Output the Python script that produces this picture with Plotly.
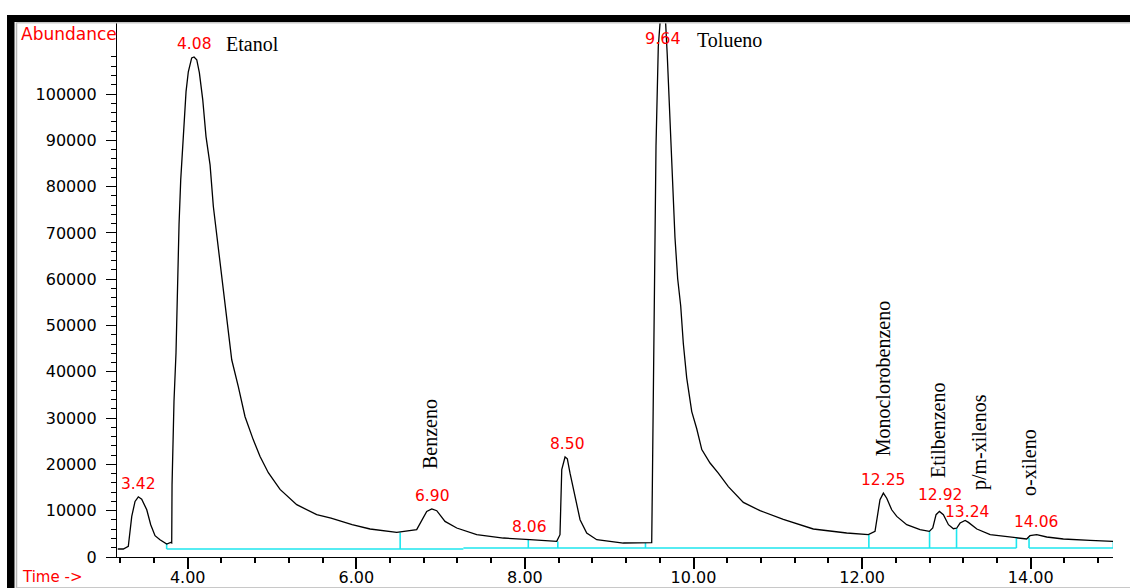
import plotly.graph_objects as go

# ---------------- data ----------------
time_min = [3.170, 3.236, 3.295, 3.336, 3.375, 3.414, 3.454, 3.514, 3.561, 3.612,
            3.671, 3.751, 3.798, 3.810, 3.814, 3.837, 3.861, 3.877, 3.897, 3.917,
            3.937, 3.956, 3.980, 4.007, 4.047, 4.075, 4.107, 4.138, 4.178, 4.217,
            4.265, 4.304, 4.351, 4.403, 4.463, 4.522, 4.600, 4.680, 4.778, 4.858,
            4.956, 5.095, 5.293, 5.530, 5.700, 5.950, 6.163, 6.479, 6.716, 6.776,
            6.835, 6.895, 6.954, 7.052, 7.191, 7.428, 7.744, 8.060, 8.377, 8.416,
            8.437, 8.476, 8.503, 8.535, 8.595, 8.654, 8.733, 8.852, 9.167, 9.484,
            9.504, 9.511, 9.523, 9.535, 9.555, 9.582, 9.642, 9.688, 9.721, 9.753,
            9.780, 9.812, 9.848, 9.879, 9.919, 9.979, 10.038, 10.098, 10.196, 10.294,
            10.413, 10.591, 10.789, 11.065, 11.421, 11.817, 12.074, 12.153, 12.180, 12.212,
            12.252, 12.292, 12.351, 12.411, 12.529, 12.687, 12.797, 12.838, 12.877, 12.917,
            12.964, 13.024, 13.083, 13.123, 13.162, 13.222, 13.261, 13.361, 13.519, 13.793,
            13.952, 13.991, 14.071, 14.190, 14.387, 14.704, 14.980]
abundance = [1730, 1730, 2290, 8770, 12000, 13000, 12500, 10200, 6980, 4600,
             3740, 2810, 3150, 3050, 15600, 33600, 44100, 57100, 71800, 81500,
             87300, 94500, 100500, 104800, 107800, 108000, 107400, 104600, 98800, 90800,
             84700, 75700, 68500, 59900, 51300, 42600, 36800, 30300, 25300, 21700,
             18200, 14600, 11300, 9140, 8400, 6980, 6050, 5310, 5900, 8060,
             9850, 10400, 10000, 7690, 6260, 4820, 4100, 3740, 3370, 4820,
             18900, 21600, 21200, 18100, 13100, 8060, 5180, 3740, 3020, 3020,
             3090, 14400, 37200, 62300, 88800, 110200, 125000, 108600, 94000, 79200,
             69000, 60100, 54200, 46100, 38700, 31400, 27700, 23200, 20300, 18100,
             15200, 11800, 10000, 8140, 6050, 5180, 4820, 5530, 8420, 12400,
             13800, 12700, 10200, 8770, 6980, 5900, 5530, 6260, 9140, 9850,
             9140, 6980, 6110, 6260, 7340, 7900, 7470, 6050, 4820, 4230,
             3890, 4600, 4820, 4320, 3890, 3590, 3370]

peak_rt = [3.42, 4.08, 6.90, 8.06, 8.50, 9.64, 12.25, 12.92, 13.24, 14.06]
peak_text = ["3.42", "4.08", "6.90", "8.06", "8.50", "9.64", "12.25", "12.92", "13.24", "14.06"]
peak_height = [13000, 108000, 10400, 3740, 21600, 125000, 13800, 9850, 7900, 4820]

compound_names = ["Etanol", "Benzeno", "Tolueno", "Monoclorobenzeno",
                  "Etilbenzeno", "p/m-xilenos", "o-xileno"]
compound_rt = [4.08, 6.90, 9.64, 12.25, 12.92, 13.24, 14.06]
compound_height = [108000, 10400, 125000, 13800, 9850, 7900, 4820]

baseline_start = [3.75, 7.27, 13.98]
baseline_end = [7.27, 13.83, 14.98]
baseline_level = [1730, 1940, 1940]

mark_t = [3.75, 6.52, 8.04, 8.39, 9.43, 12.08, 12.80, 13.12, 13.83, 13.98, 14.98]
mark_top = [3000, 5310, 3740, 3370, 3020, 4820, 5530, 6260, 4230, 4100, 3370]

y_major = [0, 10000, 20000, 30000, 40000, 50000, 60000, 70000, 80000, 90000, 100000]
y_minor = list(range(0, 110000, 2000))
x_major = [4, 6, 8, 10, 12, 14]
x_minor = [round(3.2 + 0.4 * i, 2) for i in range(30)]

# ---------------- layout geometry (pixels) ----------------
W, H = 1130, 588
L, R, T, B = 117, 1113, 22, 557
X_RANGE = [3.161, 14.976]
Y_RANGE = [0, 115550]


def pxx(x):
    return (x - L) / (R - L)


def pxy(y):
    return (B - y) / (B - T)


RED = "#ff0000"
CYAN = "#1ee6ee"
SANS = "DejaVu Sans"
SERIF = "Liberation Serif"

fig = go.Figure()

# baseline (cyan) segments and integration marks
bx, by = [], []
for s, e, lv in zip(baseline_start, baseline_end, baseline_level):
    bx += [s, e, None]
    by += [lv, lv, None]


def base_at(t):
    for s, e, lv in zip(baseline_start, baseline_end, baseline_level):
        if s - 1e-9 <= t <= e + 1e-9:
            return lv
    return baseline_level[-1]


for t, top in zip(mark_t, mark_top):
    bx += [t, t, None]
    by += [base_at(t), top, None]

fig.add_trace(go.Scatter(x=bx, y=by, mode="lines",
                         line=dict(color=CYAN, width=1.6),
                         hoverinfo="skip", showlegend=False))

fig.add_trace(go.Scatter(x=time_min, y=abundance, mode="lines",
                         line=dict(color="black", width=1.3),
                         showlegend=False))

# peak retention-time labels (pixel offsets above apex)
label_shift = {"12.92": 16, "13.24": 8}
for t, txt, h in zip(peak_rt, peak_text, peak_height):
    if h > Y_RANGE[1]:
        fig.add_annotation(x=t, y=Y_RANGE[1], text=txt, showarrow=False,
                           xanchor="center", yanchor="top", yshift=-5,
                           font=dict(family=SANS, size=16, color=RED))
    else:
        fig.add_annotation(x=t, y=h, text=txt, showarrow=False,
                           xanchor="center", yanchor="middle",
                           yshift=label_shift.get(txt, 13),
                           font=dict(family=SANS, size=15.5, color=RED))

# compound names: style offsets (pixels)
name_style = {
    "Etanol": dict(angle=0, xshift=30, yshift=13),
    "Benzeno": dict(angle=-90, xshift=-2, yshift=38),
    "Tolueno": dict(angle=0, xshift=32, yshift=-5),
    "Monoclorobenzeno": dict(angle=-90, xshift=0, yshift=35),
    "Etilbenzeno": dict(angle=-90, xshift=-1, yshift=31),
    "p/m-xilenos": dict(angle=-90, xshift=13, yshift=28),
    "o-xileno": dict(angle=-90, xshift=-7, yshift=37),
}
for name, t, h in zip(compound_names, compound_rt, compound_height):
    st = name_style[name]
    if st["angle"] == 0:
        if h > Y_RANGE[1]:
            fig.add_annotation(x=t, y=Y_RANGE[1], text=name, showarrow=False,
                               xanchor="left", yanchor="top",
                               xshift=st["xshift"], yshift=st["yshift"],
                               font=dict(family=SERIF, size=20, color="black"))
        else:
            fig.add_annotation(x=t, y=h, text=name, showarrow=False,
                               xanchor="left", yanchor="middle",
                               xshift=st["xshift"], yshift=st["yshift"],
                               font=dict(family=SERIF, size=20, color="black"))
    else:
        fig.add_annotation(x=t, y=h, text=name, showarrow=False, textangle=-90,
                           xanchor="center", yanchor="bottom",
                           xshift=st["xshift"], yshift=st["yshift"],
                           font=dict(family=SERIF, size=20, color="black"))

# axis titles in the corners
fig.add_annotation(xref="paper", yref="paper", x=pxx(19), y=pxy(34),
                   text="Abundance", showarrow=False, xanchor="left", yanchor="middle",
                   font=dict(family=SANS, size=17, color=RED))
fig.add_annotation(xref="paper", yref="paper", x=pxx(20), y=pxy(577),
                   text="Time ->", showarrow=False, xanchor="left", yanchor="middle",
                   font=dict(family=SANS, size=15, color=RED))

# window frame
shapes = [
    dict(type="rect", xref="paper", yref="paper", x0=pxx(7), x1=pxx(W + 5),
         y0=pxy(15), y1=pxy(22), fillcolor="black", line=dict(width=0)),
    dict(type="rect", xref="paper", yref="paper", x0=pxx(7), x1=pxx(14.5),
         y0=pxy(15), y1=pxy(H + 5), fillcolor="black", line=dict(width=0)),
    dict(type="line", xref="paper", yref="paper", x0=pxx(16.5), x1=pxx(16.5),
         y0=pxy(22.5), y1=pxy(H + 5), line=dict(color="#b8b8b8", width=1.5)),
    dict(type="line", xref="paper", yref="paper", x0=pxx(16.5), x1=pxx(W + 5),
         y0=pxy(22.8), y1=pxy(22.8), line=dict(color="#c8c8c8", width=1.5)),
    dict(type="line", xref="paper", yref="paper", x0=pxx(16.5), x1=pxx(W + 5),
         y0=pxy(587.5), y1=pxy(587.5), line=dict(color="#c8c8c8", width=1)),
]

fig.update_layout(
    width=W, height=H,
    margin=dict(l=L, r=W - R, t=T, b=H - B, autoexpand=False),
    paper_bgcolor="white", plot_bgcolor="white",
    shapes=shapes,
    showlegend=False,
    xaxis=dict(range=X_RANGE, showgrid=False, zeroline=False, automargin=False,
               showline=True, linecolor="black", linewidth=1.3,
               tickmode="array", tickvals=x_major,
               ticktext=[f"{v:.2f}" for v in x_major],
               ticks="outside", ticklen=11, tickwidth=2, tickcolor="black",
               ticklabelstandoff=-5,
               tickfont=dict(family=SANS, size=16, color="black"),
               minor=dict(tickmode="array", tickvals=x_minor, ticks="outside",
                          ticklen=5, tickwidth=2, tickcolor="black", showgrid=False)),
    yaxis=dict(range=Y_RANGE, showgrid=False, zeroline=False, automargin=False,
               showline=True, linecolor="black", linewidth=1.3,
               tickmode="array", tickvals=y_major,
               ticktext=[str(v) for v in y_major],
               ticks="outside", ticklen=10, tickwidth=1.3, tickcolor="black",
               ticklabelstandoff=6,
               tickfont=dict(family=SANS, size=16, color="black"),
               minor=dict(tickmode="array", tickvals=y_minor, ticks="outside",
                          ticklen=5, tickwidth=1.3, tickcolor="black", showgrid=False)),
)

fig.write_html("out.html")
